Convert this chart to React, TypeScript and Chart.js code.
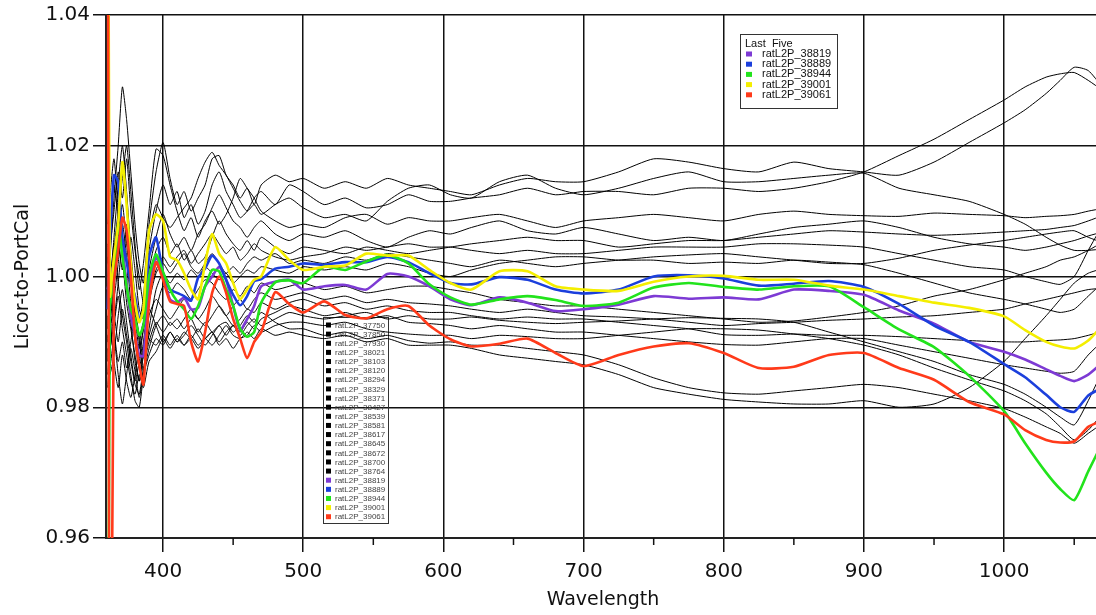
import React, { useEffect, useRef } from "react";
import { Chart, registerables } from "chart.js";

Chart.register(...registerables);

// Wavelength sample points (nm)
const wavelengths = [
  360.5, 362, 365, 368, 371, 374, 377, 380, 383, 386,
  390, 395, 400, 405, 410, 415, 420, 425, 430, 435,
  440, 445, 450, 455, 460, 465, 470, 480, 490, 500,
  515, 530, 545, 560, 575, 590, 605, 620, 640, 660,
  680, 700, 725, 750, 775, 800, 825, 850, 875, 900,
  925, 950, 975, 1000, 1015, 1030, 1040, 1050, 1060, 1070,
];

// Black (older) runs
const r37750 = [1.000, 1.004, 1.010, 1.016, 1.012, 1.018, 1.010, 1.004, 1.000, 0.996, 1.004, 1.010, 1.014, 1.011, 1.013, 1.009, 1.011, 1.008, 1.010, 1.014, 1.016, 1.013, 1.011, 1.009, 1.010, 1.012, 1.013, 1.011, 1.014,
  1.013, 1.011, 1.012, 1.0105, 1.011, 1.0125, 1.0115, 1.0115, 1.012, 1.0125, 1.0135, 1.0125, 1.013, 1.013, 1.0125, 1.0135, 1.0135, 1.013, 1.0135, 1.0145, 1.016, 1.0185, 1.021, 1.024, 1.027, 1.029, 1.0305, 1.031, 1.0312, 1.030, 1.0285];
const r37850 = [0.995, 1.002, 1.012, 1.020, 1.029, 1.024, 1.016, 1.008, 1.002, 0.999, 1.008, 1.016, 1.0205, 1.015, 1.011, 1.013, 1.010, 1.012, 1.014, 1.018, 1.0185, 1.0155, 1.014, 1.012, 1.0135, 1.011, 1.014, 1.0155, 1.0145,
  1.015, 1.0135, 1.0145, 1.0135, 1.015, 1.014, 1.0135, 1.013, 1.0125, 1.014, 1.015, 1.0145, 1.0145, 1.016, 1.018, 1.0175, 1.0165, 1.016, 1.0175, 1.0165, 1.016, 1.0155, 1.0175, 1.0205, 1.0235, 1.0255, 1.028, 1.030, 1.032, 1.0315, 1.029];
const r37930 = [1.005, 0.998, 1.006, 1.014, 1.020, 1.013, 1.004, 0.997, 0.993, 0.997, 1.006, 1.011, 1.009, 1.0075, 1.009, 1.0105, 1.012, 1.015, 1.0175, 1.019, 1.017, 1.0155, 1.0135, 1.0115, 1.010, 1.011, 1.0095, 1.011, 1.012,
  1.0105, 1.009, 1.0095, 1.0085, 1.0115, 1.0135, 1.014, 1.0125, 1.012, 1.0145, 1.0155, 1.0135, 1.0125, 1.0135, 1.015, 1.016, 1.0145, 1.0145, 1.015, 1.0155, 1.0158, 1.0135, 1.0125, 1.0115, 1.0095, 1.008, 1.006, 1.0048, 1.004, 1.004, 1.0042];
const r38021 = [0.990, 0.996, 1.004, 1.010, 1.015, 1.020, 1.013, 1.005, 0.998, 1.002, 1.010, 1.0195, 1.0185, 1.014, 1.010, 1.007, 1.009, 1.006, 1.0085, 1.010, 1.008, 1.0095, 1.012, 1.015, 1.0135, 1.012, 1.010, 1.0085, 1.0075,
  1.008, 1.0075, 1.009, 1.0095, 1.008, 1.009, 1.0085, 1.0085, 1.009, 1.0095, 1.0085, 1.0075, 1.0085, 1.009, 1.0095, 1.009, 1.0085, 1.0095, 1.010, 1.0095, 1.0093, 1.0092, 1.0097, 1.0095, 1.0093, 1.009, 1.0092, 1.0093, 1.0095, 1.010, 1.0104];
const r38103 = [1.002, 1.008, 1.014, 1.009, 1.004, 0.999, 1.006, 1.001, 0.995, 0.9935, 1.001, 1.006, 1.0095, 1.0065, 1.0045, 1.006, 1.004, 1.0065, 1.008, 1.0105, 1.0125, 1.0105, 1.0085, 1.0075, 1.006, 1.0075, 1.0085, 1.0065, 1.0055,
  1.0065, 1.006, 1.007, 1.0055, 1.0045, 1.006, 1.007, 1.0065, 1.0075, 1.0085, 1.007, 1.0065, 1.0075, 1.0065, 1.0055, 1.006, 1.0055, 1.0065, 1.0075, 1.008, 1.0085, 1.0075, 1.006, 1.005, 1.0045, 1.004, 1.0045, 1.005, 1.0055, 1.0062, 1.0068];
const r38120 = [0.985, 0.990, 0.998, 1.005, 1.001, 1.008, 1.002, 0.994, 0.989, 0.992, 0.999, 1.004, 1.006, 1.0035, 1.005, 1.0025, 1.004, 1.002, 1.003, 1.006, 1.0085, 1.0065, 1.005, 1.004, 1.0055, 1.004, 1.006, 1.0045, 1.0035,
  1.0045, 1.004, 1.0035, 1.0045, 1.004, 1.0035, 1.004, 1.0045, 1.005, 1.0055, 1.006, 1.0055, 1.0055, 1.0045, 1.005, 1.0055, 1.0055, 1.006, 1.0065, 1.007, 1.0068, 1.0065, 1.0063, 1.0065, 1.0068, 1.007, 1.0072, 1.0075, 1.0078, 1.0085, 1.0093];
const r38294 = [0.998, 1.003, 0.997, 1.002, 1.008, 1.003, 0.996, 0.990, 0.986, 0.990, 0.997, 1.001, 1.003, 1.0015, 1.003, 1.004, 1.002, 1.0035, 1.005, 1.0065, 1.005, 1.0035, 1.0045, 1.0025, 1.0035, 1.005, 1.004, 1.003, 1.0025,
  1.003, 1.0035, 1.0045, 1.004, 1.0045, 1.005, 1.0045, 1.0045, 1.004, 1.0035, 1.004, 1.0035, 1.0035, 1.004, 1.0045, 1.0045, 1.0045, 1.005, 1.005, 1.0048, 1.0045, 1.0035, 1.0025, 1.0015, 1.001, 1.0, 0.9992, 0.9988, 1.0, 1.004, 1.0078];
const r38329 = [1.008, 1.012, 1.018, 1.010, 1.003, 0.996, 0.992, 0.988, 0.984, 0.989, 0.996, 1.0005, 1.002, 1.0005, 1.002, 1.0035, 1.0015, 1.0005, 1.002, 1.0035, 1.002, 1.0005, 1.0015, 1.0005, 1.002, 1.003, 1.0025, 1.0035, 1.002,
  1.0025, 1.002, 1.003, 1.0025, 1.0035, 1.003, 1.0025, 1.002, 1.0015, 1.0025, 1.002, 1.0015, 1.002, 1.0025, 1.003, 1.0033, 1.0035, 1.003, 1.0025, 1.002, 1.002, 1.0028, 1.004, 1.0048, 1.0055, 1.006, 1.0065, 1.0068, 1.007, 1.006, 1.0052];
const r38371 = [0.992, 0.998, 1.005, 0.999, 0.994, 0.990, 0.985, 0.981, 0.980, 0.985, 0.992, 0.998, 1.0005, 0.999, 1.0005, 0.9995, 1.001, 1.0, 1.0015, 1.0005, 0.9995, 1.0005, 0.999, 1.0, 1.001, 1.0005, 1.0015, 1.001, 1.0005,
  1.0015, 1.001, 1.0015, 1.001, 1.002, 1.0015, 1.0005, 1.0, 1.001, 1.002, 1.0025, 1.003, 1.003, 1.0025, 1.0025, 1.002, 1.0022, 1.002, 1.0025, 1.0022, 1.0018, 1.0005, 0.999, 0.9975, 0.9965, 0.9958, 0.995, 0.9945, 0.995, 0.997, 0.999];
const r38427 = [0.987, 0.993, 0.999, 1.006, 1.011, 1.005, 0.999, 0.995, 0.991, 0.9875, 0.991, 0.995, 0.9985, 0.9975, 0.999, 0.998, 0.9965, 0.998, 0.9995, 0.999, 0.9975, 0.9965, 0.998, 0.997, 0.9985, 0.9975, 0.999, 0.998, 0.9985,
  0.999, 0.998, 0.9985, 0.9975, 0.998, 0.9985, 0.9985, 0.998, 0.9975, 0.9965, 0.996, 0.9955, 0.9955, 0.995, 0.9945, 0.994, 0.9935, 0.993, 0.9932, 0.9938, 0.9945, 0.9955, 0.997, 0.998, 0.9995, 1.0005, 1.0015, 1.0025, 1.003, 1.004, 1.0052];
const r38539 = [0.994, 0.989, 0.993, 0.999, 1.005, 0.998, 0.993, 0.987, 0.984, 0.988, 0.994, 0.9965, 0.995, 0.9935, 0.995, 0.9965, 0.995, 0.9935, 0.995, 0.997, 0.9955, 0.994, 0.9955, 0.9965, 0.995, 0.9965, 0.9975, 0.9965, 0.997,
  0.9975, 0.9965, 0.997, 0.996, 0.9965, 0.996, 0.9958, 0.9955, 0.995, 0.9945, 0.995, 0.9945, 0.994, 0.9938, 0.9935, 0.993, 0.9925, 0.9928, 0.993, 0.9933, 0.9935, 0.9938, 0.994, 0.9945, 0.995, 0.9958, 0.9965, 0.997, 0.9975, 0.998, 0.9982];
const r38581 = [0.983, 0.988, 0.994, 0.990, 0.995, 0.991, 0.987, 0.9835, 0.982, 0.986, 0.990, 0.993, 0.9915, 0.993, 0.992, 0.9935, 0.995, 0.9935, 0.9925, 0.994, 0.9955, 0.994, 0.9925, 0.9935, 0.995, 0.9945, 0.996, 0.995, 0.996,
  0.9965, 0.9955, 0.996, 0.995, 0.9955, 0.9948, 0.9945, 0.9945, 0.994, 0.9935, 0.9938, 0.9935, 0.9935, 0.993, 0.9925, 0.992, 0.9911, 0.991, 0.9912, 0.991, 0.991, 0.9908, 0.9905, 0.9902, 0.990, 0.990, 0.9902, 0.9903, 0.9905, 0.991, 0.9916];
const r38617 = [0.996, 1.000, 0.992, 0.987, 0.990, 0.986, 0.990, 0.994, 0.990, 0.9855, 0.989, 0.9925, 0.994, 0.9925, 0.9935, 0.992, 0.9935, 0.9915, 0.993, 0.9915, 0.9925, 0.991, 0.9925, 0.9915, 0.993, 0.992, 0.9935, 0.9945, 0.9955,
  0.995, 0.994, 0.9945, 0.9935, 0.994, 0.993, 0.9928, 0.9925, 0.992, 0.9925, 0.992, 0.9915, 0.9915, 0.991, 0.9905, 0.990, 0.9896, 0.9895, 0.990, 0.9905, 0.9905, 0.9895, 0.9885, 0.9875, 0.9865, 0.986, 0.9855, 0.9852, 0.9855, 0.988, 0.9901];
const r38645 = [0.989, 0.985, 0.988, 0.994, 0.998, 0.993, 0.988, 0.984, 0.987, 0.992, 0.995, 0.9925, 0.990, 0.9915, 0.990, 0.9915, 0.9905, 0.992, 0.9905, 0.9915, 0.990, 0.9915, 0.9925, 0.991, 0.9925, 0.9935, 0.9925, 0.9935, 0.9945,
  0.994, 0.9935, 0.994, 0.9945, 0.9935, 0.994, 0.9935, 0.9935, 0.9938, 0.9933, 0.993, 0.9928, 0.993, 0.9932, 0.9935, 0.9937, 0.9936, 0.9935, 0.993, 0.9915, 0.990, 0.9885, 0.987, 0.985, 0.9835, 0.982, 0.980, 0.9785, 0.9773, 0.981, 0.9855];
const r38672 = [0.999, 0.994, 0.987, 0.983, 0.988, 0.984, 0.9815, 0.985, 0.9895, 0.993, 0.9905, 0.9895, 0.991, 0.9895, 0.991, 0.9895, 0.9905, 0.989, 0.9905, 0.9915, 0.9895, 0.9905, 0.989, 0.9905, 0.991, 0.9925, 0.9915, 0.9925, 0.993,
  0.993, 0.9925, 0.993, 0.992, 0.9915, 0.9912, 0.991, 0.991, 0.9905, 0.991, 0.9908, 0.9905, 0.9905, 0.991, 0.9915, 0.992, 0.992, 0.9918, 0.9912, 0.9905, 0.9895, 0.988, 0.986, 0.9842, 0.9825, 0.981, 0.979, 0.977, 0.975, 0.9765, 0.979];
const r38700 = [0.991, 0.986, 0.9905, 0.985, 0.9805, 0.985, 0.989, 0.9855, 0.9815, 0.985, 0.988, 0.9905, 0.9895, 0.9915, 0.990, 0.991, 0.9925, 0.991, 0.9895, 0.991, 0.9925, 0.993, 0.9915, 0.9925, 0.994, 0.993, 0.9945, 0.993, 0.992,
  0.992, 0.991, 0.9915, 0.9905, 0.991, 0.9902, 0.9898, 0.990, 0.9895, 0.9895, 0.989, 0.9885, 0.988, 0.9865, 0.9845, 0.983, 0.9822, 0.982, 0.9825, 0.983, 0.9835, 0.983, 0.982, 0.981, 0.9798, 0.9785, 0.977, 0.976, 0.9745, 0.976, 0.9775];
const r38764 = [1.003, 0.997, 0.993, 0.997, 0.992, 0.988, 0.984, 0.982, 0.985, 0.983, 0.987, 0.9885, 0.9905, 0.989, 0.9905, 0.9895, 0.991, 0.9895, 0.9905, 0.9895, 0.991, 0.9925, 0.991, 0.9905, 0.9915, 0.9905, 0.992, 0.991, 0.9915,
  0.991, 0.9905, 0.991, 0.990, 0.9905, 0.9895, 0.9895, 0.9895, 0.989, 0.988, 0.9875, 0.987, 0.9865, 0.985, 0.983, 0.982, 0.9812, 0.9808, 0.9805, 0.9805, 0.981, 0.980, 0.9805, 0.983, 0.987, 0.9905, 0.994, 0.9965, 0.999, 1.0005, 1.0012];

// "Last Five" runs
const r38819 = [0.998, 1.0, 1.002, 1.006, 1.004, 0.999, 0.994, 0.991, 0.988, 0.9878, 0.998, 1.003, 1.0, 0.9965, 0.996, 0.9968, 0.995, 0.9952, 0.9985, 1.0, 1.0015, 0.9995, 0.9955, 0.9918, 0.9935, 0.9955, 0.9985, 0.9992, 0.9995,
  0.998, 0.9985, 0.9987, 0.998, 1.0004, 1.0, 0.9985, 0.9965, 0.9956, 0.9968, 0.996, 0.9947, 0.995, 0.9957, 0.997, 0.9966, 0.9968, 0.9965, 0.998, 0.9978, 0.9972, 0.9948, 0.9928, 0.99, 0.9885, 0.9873, 0.9858, 0.9848, 0.984, 0.985, 0.9868];
const r38889 = [0.995, 1.005, 1.0155, 1.0145, 1.006, 1.0022, 0.999, 0.997, 0.9935, 0.9942, 1.003, 1.006, 1.0005, 0.998, 0.9975, 0.997, 0.9963, 0.9998, 1.0012, 1.0032, 1.002, 0.9995, 0.9972, 0.9956, 0.997, 0.9993, 0.9996, 1.0012, 1.0015,
  1.002, 1.0018, 1.0022, 1.0022, 1.003, 1.0022, 1.0005, 0.999, 0.9988, 0.9999, 0.9995, 0.998, 0.9974, 0.998, 1.0, 1.0002, 0.9997, 0.9986, 0.9989, 0.9993, 0.9984, 0.9958, 0.9925, 0.99, 0.9866, 0.9846, 0.9819, 0.98, 0.9793, 0.9818, 0.983];
const r38944 = [0.90, 0.995, 1.0, 1.008, 1.003, 0.9985, 0.995, 0.9935, 0.991, 0.9925, 1.0, 1.0034, 1.0007, 0.998, 0.9962, 0.995, 0.9935, 0.9955, 0.9985, 1.001, 1.0008, 0.998, 0.9955, 0.992, 0.9908, 0.9915, 0.996, 0.9991, 0.9994,
  0.999, 1.0015, 1.001, 1.0023, 1.0033, 1.002, 0.9988, 0.9968, 0.9957, 0.9965, 0.997, 0.9964, 0.9955, 0.996, 0.9983, 0.999, 0.9984, 0.998, 0.9985, 0.9985, 0.9953, 0.9919, 0.9892, 0.9848, 0.9794, 0.9745, 0.97, 0.9675, 0.9658, 0.9702, 0.9745];
const r39001 = [1.10, 0.997, 1.003, 1.008, 1.0175, 1.011, 1.002, 0.996, 0.993, 0.995, 1.007, 1.0095, 1.0085, 1.003, 1.0025, 1.0005, 0.998, 0.9965, 1.002, 1.0065, 1.0035, 1.002, 0.999, 0.9965, 0.998, 0.9995, 1.0, 1.0045, 1.0025,
  1.001, 1.0015, 1.0017, 1.0035, 1.0032, 1.0032, 1.001, 0.999, 0.998, 1.0008, 1.0008, 0.9985, 0.998, 0.9978, 0.9992, 1.0, 1.0001, 0.9995, 0.9995, 0.9986, 0.998, 0.997, 0.996, 0.9952, 0.9939, 0.9918, 0.99, 0.9893, 0.989, 0.9902, 0.9925];
const r39061 = [1.10, 0.90, 0.999, 1.004, 1.009, 1.007, 1.0, 0.991, 0.9865, 0.9835, 0.996, 1.0022, 0.9995, 0.9962, 0.9958, 0.9955, 0.990, 0.987, 0.9915, 0.9975, 1.0, 0.9975, 0.9935, 0.9905, 0.9875, 0.990, 0.9915, 0.9976, 0.9958,
  0.9945, 0.9962, 0.9941, 0.9936, 0.995, 0.9955, 0.9925, 0.9904, 0.9893, 0.9897, 0.9905, 0.9883, 0.9863, 0.988, 0.9893, 0.9898, 0.9883, 0.986, 0.9862, 0.988, 0.9883, 0.986, 0.9842, 0.9808, 0.9789, 0.9765, 0.975, 0.9746, 0.9748, 0.977, 0.978];

const seriesNames = [
  "ratL2P_37750", "ratL2P_37850", "ratL2P_37930", "ratL2P_38021", "ratL2P_38103",
  "ratL2P_38120", "ratL2P_38294", "ratL2P_38329", "ratL2P_38371", "ratL2P_38427",
  "ratL2P_38539", "ratL2P_38581", "ratL2P_38617", "ratL2P_38645", "ratL2P_38672",
  "ratL2P_38700", "ratL2P_38764", "ratL2P_38819", "ratL2P_38889", "ratL2P_38944",
  "ratL2P_39001", "ratL2P_39061",
];
const seriesValues = [
  r37750, r37850, r37930, r38021, r38103, r38120, r38294, r38329, r38371, r38427,
  r38539, r38581, r38617, r38645, r38672, r38700, r38764, r38819, r38889, r38944,
  r39001, r39061,
];
const lastFiveColors = ["#7d3ad4", "#1b3fdc", "#22e31c", "#f4ee00", "#ff3a1a"];
const seriesColors = [...Array(17).fill("#000000"), ...lastFiveColors];
const lastFiveNames = seriesNames.slice(17);

const yTickValues = [0.96, 0.98, 1.0, 1.02, 1.04];
const xTickValues = [400, 500, 600, 700, 800, 900, 1000];
const xMinorTicks = [450, 550, 650, 750, 850, 950, 1050];

const X_MIN = 359.3;
const X_MAX = 1068.4;
const AXIS_FONT = '"DejaVu Sans", sans-serif';

const boxLegends = {
  id: "boxLegends",
  beforeDatasetsDraw(chart: any) {
    const ctx = chart.ctx as CanvasRenderingContext2D;
    ctx.save();
    ctx.strokeStyle = "#333";
    ctx.lineWidth = 1;
    // "Last Five" legend
    ctx.fillStyle = "#ffffff";
    ctx.fillRect(740.5, 34.5, 97, 74);
    ctx.strokeRect(740.5, 34.5, 97, 74);
    ctx.font = '11px "Liberation Sans", sans-serif';
    ctx.textBaseline = "middle";
    ctx.textAlign = "left";
    ctx.fillStyle = "#111";
    ctx.fillText("Last  Five", 745, 44);
    lastFiveNames.forEach((name, i) => {
      const y = 54 + i * 10.2;
      ctx.fillStyle = lastFiveColors[i];
      ctx.fillRect(746, y - 2.5, 6, 5);
      ctx.fillStyle = "#111";
      ctx.fillText(name, 762, y);
    });
    // Full legend
    ctx.strokeRect(323.5, 317.5, 65, 206);
    ctx.font = '8px "Liberation Sans", sans-serif';
    seriesNames.forEach((name, i) => {
      const y = 325 + i * 9.13;
      ctx.fillStyle = seriesColors[i];
      ctx.fillRect(326, y - 2.5, 5, 5);
      ctx.fillStyle = "#444";
      ctx.fillText(name, 335, y + 0.5);
    });
    ctx.restore();
  },
  afterDraw(chart: any) {
    const ctx = chart.ctx as CanvasRenderingContext2D;
    const xs = chart.scales.x;
    const bottom = chart.chartArea.bottom;
    ctx.save();
    ctx.strokeStyle = "#111";
    ctx.lineWidth = 1.5;
    xMinorTicks.forEach((v) => {
      const px = xs.getPixelForValue(v);
      ctx.beginPath();
      ctx.moveTo(px, bottom);
      ctx.lineTo(px, bottom + 7);
      ctx.stroke();
    });
    ctx.restore();
  },
};

export default function App() {
  const canvasRef = useRef<HTMLCanvasElement | null>(null);

  useEffect(() => {
    const canvas = canvasRef.current;
    if (!canvas) return;
    const datasets = seriesNames.map((name, i) => ({
      label: name,
      data: wavelengths.map((w, j) => ({ x: w, y: seriesValues[i][j] })),
      borderColor: seriesColors[i],
      borderWidth: i >= 17 ? 2.6 : 1,
      pointRadius: 0,
      tension: 0.2,
      order: -i,
      fill: false,
    }));
    const chart = new Chart(canvas, {
      type: "line",
      data: { datasets },
      plugins: [boxLegends],
      options: {
        animation: false,
        responsive: false,
        devicePixelRatio: 1,
        layout: { padding: { top: 11, right: 10, bottom: 0, left: 0 } },
        plugins: { legend: { display: false }, tooltip: { enabled: false } },
        scales: {
          x: {
            type: "linear",
            min: X_MIN,
            max: X_MAX,
            afterBuildTicks: (s: any) => { s.ticks = xTickValues.map((v) => ({ value: v })); },
            ticks: {
              autoSkip: false,
              maxRotation: 0,
              padding: 8,
              color: "#111",
              font: { family: AXIS_FONT, size: 20 },
              callback: (v: any) => String(v),
            },
            grid: { color: "#111", lineWidth: 1.5, tickLength: 14, drawTicks: true, tickColor: "#111" },
            border: { display: true, color: "#222", width: 2 },
            title: {
              display: true,
              text: "Wavelength",
              color: "#111",
              font: { family: AXIS_FONT, size: 19 },
              padding: { top: 0, bottom: 4 },
            },
            afterFit: (s: any) => { s.height = 77; s.paddingLeft = 0; s.paddingRight = 0; },
          },
          y: {
            type: "linear",
            min: 0.96,
            max: 1.04,
            afterBuildTicks: (s: any) => { s.ticks = yTickValues.map((v) => ({ value: v })); },
            ticks: {
              padding: 3,
              color: "#111",
              font: { family: AXIS_FONT, size: 20 },
              callback: (v: any) => Number(v).toFixed(2),
            },
            grid: { color: "#111", lineWidth: 1.5, tickLength: 13, drawTicks: true, tickColor: "#111" },
            border: { display: true, color: "#222", width: 2 },
            title: {
              display: true,
              text: "Licor-to-PortCal",
              color: "#111",
              font: { family: AXIS_FONT, size: 19 },
              padding: { top: 12, bottom: 0 },
            },
            afterFit: (s: any) => { s.width = 106; },
          },
        },
      },
    } as any);
    return () => chart.destroy();
  }, []);

  return (
    <div style={{ position: "fixed", left: 0, top: 0, width: 1110, height: 615, background: "#fff" }}>
      <canvas ref={canvasRef} width={1110} height={615} style={{ display: "block" }} />
    </div>
  );
}
